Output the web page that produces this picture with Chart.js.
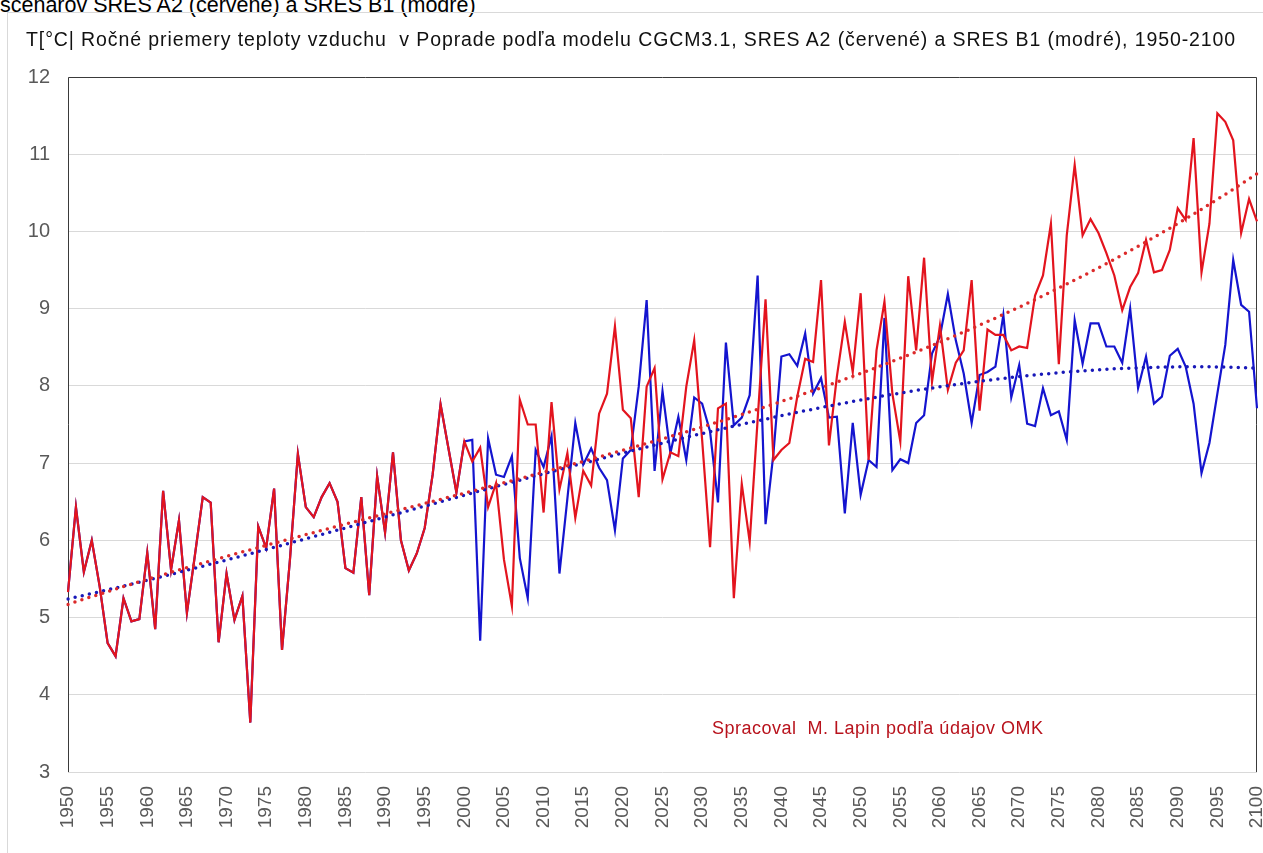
<!DOCTYPE html>
<html>
<head>
<meta charset="utf-8">
<script src="https://cdn.jsdelivr.net/npm/chart.js@4.4.1/dist/chart.umd.min.js"></script>
<style>
  html,body{margin:0;padding:0;background:#fff;overflow:hidden;width:1263px;height:853px;font-family:"Liberation Sans",Arial,sans-serif}
  #sub{position:absolute;left:0;top:-7px;font-size:21.5px;line-height:24px;color:#000;white-space:pre}
  #frame{position:absolute;left:7px;top:12px;width:1300px;height:900px;border:1px solid #d9d9d9}
  #title{position:absolute;left:26px;top:28px;font-size:19.5px;line-height:22px;letter-spacing:0.9px;color:#111;white-space:pre}
  #credit{position:absolute;left:712px;top:718px;font-size:18px;line-height:20px;letter-spacing:0.5px;color:#b8121c;white-space:pre}
  #c{position:absolute;left:0;top:0}
</style>
</head>
<body>
<div id="sub">scenárov SRES A2 (červené) a SRES B1 (modré)</div>
<div id="frame"></div>
<canvas id="c" width="1263" height="853"></canvas>
<div id="title">T[°C| Ročné priemery teploty vzduchu  v Poprade podľa modelu CGCM3.1, SRES A2 (červené) a SRES B1 (modré), 1950-2100</div>
<div id="credit">Spracoval  M. Lapin podľa údajov OMK</div>
<script>
// annual means 1950-1999 (shared by both scenarios)
var historical = [
  5.33,6.43,5.59,6.00,5.40,4.67,4.50,5.25,4.95,4.98,
  5.84,4.85,6.64,5.62,6.26,5.06,5.80,6.56,6.49,4.68,
  5.57,4.97,5.28,3.64,6.18,5.90,6.67,4.58,5.75,7.12,
  6.43,6.30,6.56,6.74,6.50,5.64,5.58,6.56,5.29,6.83,
  6.10,7.14,6.00,5.61,5.83,6.16,6.85,7.76,7.19,6.62
];
// SRES A2, 2000-2100
var a2 = [
  7.28,7.02,7.20,6.43,6.74,5.75,5.15,7.82,7.50,7.50,
  6.36,7.79,6.66,7.13,6.29,6.90,6.71,7.64,7.90,8.77,
  7.69,7.58,6.56,7.99,8.23,6.79,7.14,7.09,7.99,8.59,
  7.30,5.91,7.71,7.77,5.25,6.73,5.98,7.56,9.12,7.04,
  7.17,7.26,7.86,8.35,8.31,9.37,7.23,8.12,8.83,8.18,
  9.20,7.04,8.46,9.09,7.90,7.28,9.42,8.46,9.66,8.05,
  8.78,7.95,8.30,8.46,9.37,7.68,8.73,8.66,8.66,8.46,
  8.51,8.49,9.17,9.43,10.10,8.28,9.95,10.86,9.95,10.16,
  9.98,9.72,9.43,8.98,9.28,9.46,9.89,9.47,9.50,9.76,
  10.30,10.15,11.21,9.47,10.10,11.53,11.42,11.18,9.98,10.42,
  10.13
];
// SRES B1, 2000-2100
var b1 = [
  7.28,7.30,4.70,7.32,6.85,6.82,7.09,5.77,5.25,7.17,
  6.95,7.35,5.57,6.54,7.52,6.98,7.19,6.94,6.78,6.13,
  7.06,7.17,7.99,9.11,6.90,7.93,7.13,7.60,7.04,7.85,
  7.77,7.41,6.49,8.56,7.49,7.59,7.88,9.43,6.21,7.13,
  8.38,8.41,8.26,8.68,7.90,8.10,7.59,7.60,6.35,7.52,
  6.59,7.04,6.95,8.88,6.91,7.05,7.00,7.52,7.62,8.42,
  8.64,9.19,8.59,8.16,7.52,8.14,8.18,8.25,8.92,7.85,
  8.27,7.51,7.48,7.97,7.62,7.67,7.30,8.85,8.29,8.81,
  8.81,8.51,8.51,8.30,9.00,7.97,8.38,7.77,7.86,8.39,
  8.48,8.25,7.77,6.87,7.26,7.90,8.53,9.63,9.05,8.96,
  7.71
];
var yTicks = [3,4,5,6,7,8,9,10,11,12];

var years = [];
for (var y = 1950; y <= 2100; y++) years.push(y);
var redVals = historical.concat(a2);
var blueVals = historical.concat(b1);

// polynomial trend line, as the spreadsheet trendline does
function polyFit(xs, ys, deg){
  var n = deg+1, A = [], b = [], i, j, r, c;
  for(i=0;i<n;i++){ A.push([]); b.push(0); for(j=0;j<n;j++) A[i].push(0); }
  xs.forEach(function(x,k){
    var p=[]; for(j=0;j<n;j++) p.push(Math.pow(x,j));
    for(i=0;i<n;i++){ b[i]+=p[i]*ys[k]; for(j=0;j<n;j++) A[i][j]+=p[i]*p[j]; }
  });
  for(c=0;c<n;c++){
    var piv=c; for(r=c+1;r<n;r++) if(Math.abs(A[r][c])>Math.abs(A[piv][c])) piv=r;
    var t=A[c];A[c]=A[piv];A[piv]=t; t=b[c];b[c]=b[piv];b[piv]=t;
    for(r=c+1;r<n;r++){ var f=A[r][c]/A[c][c]; for(j=c;j<n;j++) A[r][j]-=f*A[c][j]; b[r]-=f*b[c]; }
  }
  var coef=[]; for(i=0;i<n;i++) coef.push(0);
  for(r=n-1;r>=0;r--){ var s=b[r]; for(j=r+1;j<n;j++) s-=A[r][j]*coef[j]; coef[r]=s/A[r][r]; }
  return coef;
}
function trend(vals, deg){
  var xs = years.map(function(y){ return (y-2025)/75; });
  var co = polyFit(xs, vals, deg);
  return xs.map(function(x){ var s=0; for(var j=0;j<co.length;j++) s+=co[j]*Math.pow(x,j); return s; });
}

var framePlugin = {
  id:'frame',
  beforeDatasetsDraw:function(chart){
    var a=chart.chartArea, ctx=chart.ctx;
    ctx.save(); ctx.strokeStyle='#3a3a3a'; ctx.lineWidth=1;
    ctx.beginPath();
    ctx.moveTo(a.left+0.5,a.bottom); ctx.lineTo(a.left+0.5,a.top+0.5);
    ctx.lineTo(a.right-0.5,a.top+0.5); ctx.lineTo(a.right-0.5,a.bottom);
    ctx.stroke(); ctx.restore();
  }
};

Chart.defaults.font.family = '"Liberation Sans", Arial, sans-serif';
new Chart(document.getElementById('c'), {
  type:'line',
  data:{
    labels:years,
    datasets:[
      {data:trend(redVals,3), borderColor:'#dc2a2a', borderWidth:3.5, borderDash:[0,7.3], borderCapStyle:'round', pointRadius:0, tension:0},
      {data:trend(blueVals,3), borderColor:'#1818b8', borderWidth:3.5, borderDash:[0,7.3], borderCapStyle:'round', pointRadius:0, tension:0},
      {data:redVals, borderColor:'#e3141e', borderWidth:2.2, pointRadius:0, tension:0},
      {data:blueVals, borderColor:'#1414cf', borderWidth:2.2, pointRadius:0, tension:0}
    ]
  },
  options:{
    responsive:false, animation:false, devicePixelRatio:1,
    layout:{padding:{left:0,top:77,right:6,bottom:0}},
    plugins:{legend:{display:false}, tooltip:{enabled:false}, title:{display:false}},
    scales:{
      x:{
        grid:{display:false}, border:{display:false},
        ticks:{autoSkip:false, minRotation:90, maxRotation:90, padding:6, color:'#595959', font:{size:19},
          callback:function(v,i){ return years[i]%5===0 ? String(years[i]) : ''; }},
        afterFit:function(s){ s.height=81; s.paddingLeft=0; s.paddingRight=0; }
      },
      y:{
        min:3, max:12,
        afterBuildTicks:function(s){ s.ticks = yTicks.map(function(v){ return {value:v}; }); },
        grid:{color:'#d9d9d9', drawTicks:false}, border:{display:false},
        ticks:{padding:18, color:'#595959', font:{size:20}},
        afterFit:function(s){ s.width=68; }
      }
    }
  },
  plugins:[framePlugin]
});
</script>
</body>
</html>
